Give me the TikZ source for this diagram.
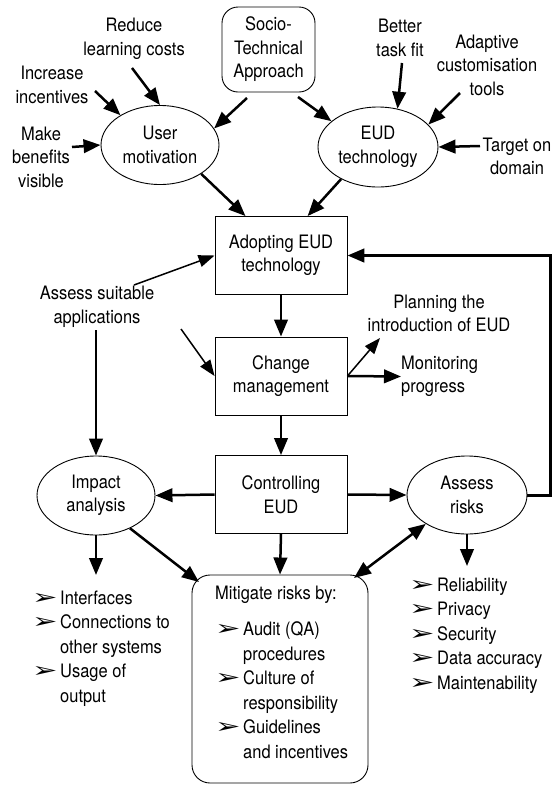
\documentclass[tikz,border=0pt]{standalone}
\usepackage{fontspec}
\setmainfont{TeX Gyre Heros}[FakeStretch=0.89]
\newfontfamily\dingfont{DejaVu Sans}
\usepackage{graphicx}
\usetikzlibrary{arrows.meta,shapes.geometric}
% list marker: 3D arrowhead in a fixed-width box
\newcommand{\bul}{\makebox[28pt][l]{\dingfont\fontsize{16}{16}\selectfont\scalebox{1.9}[1.3]{➢}}}

\begin{document}
\begin{tikzpicture}[x=1pt, y=-1pt, font=\fontsize{18.5}{23.5}\selectfont,
  >={Triangle[length=17pt,width=13.5pt]},
  arr/.style={->, line width=2.5pt},
  thin arr/.style={->, line width=1.5pt, >={Triangle[length=16pt,width=12pt]}},
  proc/.style={rectangle, draw, line width=0.9pt, minimum width=132pt, minimum height=78pt,
               align=center, inner sep=0pt},
  oval/.style={ellipse, draw, line width=0.9pt, minimum width=118pt, minimum height=79pt,
               align=center, inner sep=0pt},
  lbl/.style={align=center, inner sep=0pt},
  lst/.style={inner sep=0pt, anchor=base west, font=\fontsize{18.5}{24.5}\selectfont}]
  \useasboundingbox (0,0) rectangle (554,785);

  % inputs at the top
  \node[lbl] (reduce) at (134,39) {Reduce\\learning costs};
  \node[lbl] (incent) at (52,85) {Increase\\incentives};
  \node[lbl] (benefit) at (41,157) {Make\\benefits\\visible};
  \node[rectangle, rounded corners=16pt, draw, line width=0.9pt, minimum width=93pt,
        minimum height=85pt, align=center, inner sep=0pt] (socio) at (268.5,49.5)
        {Socio-\\Technical\\Approach};
  \node[lbl] (taskfit) at (400,38) {Better\\task fit};
  \node[lbl] (adapt) at (487,65) {Adaptive\\customisation\\tools};
  \node[lbl] (target) at (517,156.5) {Target on\\domain};

  \node[oval] (user) at (160,145) {User\\motivation};
  \node[oval, minimum width=120pt, minimum height=80pt] (eud) at (378,147) {EUD\\technology};

  \coordinate (reduceT) at (132,68);
  \coordinate (incentT) at (95,91);
  \coordinate (benefitT) at (72,147);
  \coordinate (socioL) at (247,98);
  \coordinate (socioR) at (298,97);
  \coordinate (taskfitT) at (402,63);
  \coordinate (adaptT) at (460,93);
  \coordinate (targetT) at (480,146);
  \draw[arr] (reduceT) -- (user.north);
  \draw[arr] (incentT) -- (user.143);
  \draw[arr] (benefitT) -- (user.west);
  \draw[arr] (socioL) -- (user.17);
  \draw[arr] (socioR) -- (eud.151);
  \draw[arr] (taskfitT) -- (eud.63);
  \draw[arr] (adaptT) -- (eud.24);
  \draw[arr] (targetT) -- (eud.east);

  % main chain
  \node[proc] (adopt) at (281,255.5) {Adopting EUD\\technology};
  \node[proc] (change) at (281,376) {Change\\management};
  \node[proc] (control) at (281,494.5) {Controlling\\EUD};
  \draw[arr] (user.-35) -- (adopt.132);
  \draw[arr] (eud.221) -- (adopt.56);
  \draw[arr] (adopt) -- (change);
  \draw[arr] (change) -- (control);

  \node[lbl] (suitable) at (97,307) {Assess suitable\\applications};
  \node[lbl] (planning) at (439,313.5) {Planning the\\introduction of EUD};
  \node[lbl, align=left, anchor=west] (monitor) at (401,376.5) {Monitoring\\progress};
  \coordinate (suitableT) at (134,285);
  \coordinate (suitableB) at (96,330);
  \coordinate (changeT) at (181,329);
  \coordinate (planningT) at (380,338);
  \draw[thin arr] (suitableT) -- (adopt.west);
  \draw[thin arr] (changeT) -- (change.west);
  \draw[thin arr] (change.east) -- (planningT);
  \draw[arr] (change.east) -- (monitor.west);

  % control loop
  \node[oval] (impact) at (96,495.5) {Impact\\analysis};
  \node[oval, minimum width=120pt, minimum height=78pt] (risks) at (467,495) {Assess\\risks};
  \draw[arr] (suitableB) -- (impact.north);
  \draw[arr] (control.west) -- (impact.east);
  \draw[arr] (control.east) -- (risks.west);
  \draw[arr, line width=3pt] (risks.east) -- ++(23,0) |- (adopt.east);

  % mitigation box
  \node[rectangle, rounded corners=18pt, draw, line width=0.9pt, minimum width=176pt,
        minimum height=208pt] (mitigate) at (280,679) {};
  \node[lst] (mitlist) at (215,599) {\begin{tabular}[t]{@{}l@{}l@{}}
    \multicolumn{2}{@{}l@{}}{Mitigate risks by:}\\[12pt]
    \bul & Audit (QA)\\ & procedures\\
    \bul & Culture of\\ & responsibility\\
    \bul & Guidelines\\ & and incentives
  \end{tabular}};
  \coordinate (mitL) at (199,582);
  \coordinate (mitR) at (354,578);
  \draw[arr] (impact.-44) -- (mitL);
  \draw[arr] (control.south) -- (mitigate.north);
  \draw[arr, <->] (mitR) -- (risks.215);

  % lists under the ovals
  \node[lst] (impactlist) at (32,604) {\begin{tabular}[t]{@{}l@{}l@{}}
    \bul & Interfaces\\
    \bul & Connections to\\ & other systems\\
    \bul & Usage of\\ & output
  \end{tabular}};
  \node[lst] (risklist) at (409,591) {\begin{tabular}[t]{@{}l@{}l@{}}
    \bul & Reliability\\ \bul & Privacy\\ \bul & Security\\
    \bul & Data accuracy\\ \bul & Maintenability
  \end{tabular}};
  \coordinate (impactB) at (96,575);
  \coordinate (risksB) at (467,566);
  \draw[arr] (impact.south) -- (impactB);
  \draw[arr] (risks.south) -- (risksB);
\end{tikzpicture}
\end{document}
